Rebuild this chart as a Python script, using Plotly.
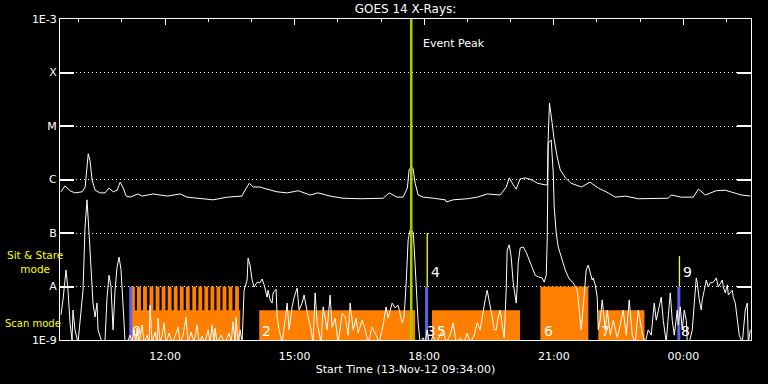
import numpy as np
import pandas as pd
import plotly.graph_objects as go

# ---------------- data (clock hours on 13-Nov-2012; >24 = 14-Nov) ----------------
long_hours = [9.59, 9.68, 9.80, 9.91, 10.08, 10.15, 10.22, 10.26, 10.31, 10.38, 10.49, 10.61, 10.70,
              10.80, 10.89, 10.96, 11.03, 11.10, 11.19, 11.37, 11.47, 11.72, 12.05, 12.35, 12.51, 12.81,
              13.11, 13.44, 13.78, 13.85, 13.95, 14.04, 14.20, 14.27, 14.59, 14.83, 15.08, 15.36, 15.54,
              15.82, 16.12, 16.52, 17.05, 17.19, 17.37, 17.51, 17.61, 17.65, 17.70, 17.74, 17.79, 17.86,
              17.98, 18.21, 18.49, 18.51, 18.67, 19.00, 19.23, 19.46, 19.69, 19.76, 19.90, 19.97, 20.06,
              20.13, 20.22, 20.34, 20.50, 20.62, 20.80, 20.85, 20.87, 20.90, 20.96, 21.01, 21.08, 21.15,
              21.27, 21.40, 21.64, 21.84, 22.03, 22.26, 22.42, 22.66, 22.96, 23.35, 23.65, 23.72, 23.95,
              24.23, 24.35, 24.51, 24.76, 24.97, 25.20, 25.34, 25.55]
long_logflux = [-6.23, -6.12, -6.21, -6.25, -6.23, -6.14, -5.52, -5.64, -6.01, -6.20, -6.25, -6.25, -6.16,
                -6.23, -6.20, -6.05, -6.16, -6.31, -6.33, -6.27, -6.31, -6.27, -6.31, -6.27, -6.33, -6.35,
                -6.38, -6.33, -6.31, -6.20, -6.07, -6.14, -6.14, -6.16, -6.23, -6.25, -6.21, -6.29, -6.25,
                -6.31, -6.35, -6.36, -6.35, -6.25, -6.33, -6.33, -6.16, -5.82, -5.77, -5.79, -6.07, -6.29,
                -6.33, -6.35, -6.38, -6.42, -6.38, -6.36, -6.33, -6.27, -6.29, -6.29, -6.14, -5.97, -6.10,
                -6.18, -5.99, -5.97, -6.01, -6.07, -6.10, -6.10, -5.26, -4.57, -4.93, -5.26, -5.58, -5.82,
                -5.97, -6.07, -6.14, -6.05, -6.16, -6.25, -6.33, -6.31, -6.36, -6.36, -6.35, -6.29, -6.33,
                -6.33, -6.18, -6.29, -6.21, -6.20, -6.25, -6.29, -6.31]

short_hours = [
    9.590, 9.636, 9.706, 9.752, 9.799, 9.845, 9.868, 9.914, 9.984, 10.053, 10.100, 10.146, 10.192,
    10.239, 10.308, 10.331, 10.378, 10.424, 10.447, 10.540, 10.609, 10.656, 10.702, 10.748, 10.795,
    10.841, 10.888, 10.934, 10.980, 11.027, 11.050, 11.073,
    11.119, 11.189, 11.235, 11.282, 11.328, 11.351, 11.397, 11.467, 11.513, 11.583, 11.629, 11.652,
    11.698, 11.768, 11.814, 11.837, 11.884, 11.930, 11.976, 12.023, 12.092, 12.162, 12.231, 12.301,
    12.347, 12.416, 12.486, 12.532, 12.601, 12.671, 12.740, 12.787, 12.856, 12.926, 12.995, 13.042,
    13.088, 13.134, 13.158, 13.204, 13.296, 13.389, 13.482, 13.528, 13.574, 13.621, 13.644, 13.690,
    13.737, 13.783, 13.829, 13.899, 13.922, 13.968, 14.015, 14.061, 14.130, 14.200, 14.246, 14.293,
    14.362, 14.385, 14.432, 14.478, 14.501, 14.571, 14.594, 14.640, 14.710, 14.779, 14.826, 14.872,
    14.941, 14.988, 15.057, 15.103, 15.173, 15.219, 15.265, 15.312, 15.381, 15.427, 15.474, 15.520,
    15.613, 15.659, 15.752, 15.821, 15.868, 15.937, 16.007, 16.099, 16.169, 16.238, 16.285, 16.354,
    16.424, 16.470, 16.563, 16.632, 16.702, 16.794, 16.887, 16.956, 17.049, 17.118, 17.165, 17.257,
    17.327, 17.396, 17.489, 17.535, 17.582, 17.628, 17.674, 17.744, 17.767, 17.813, 17.836, 17.860,
    17.906, 17.975, 18.022, 18.068, 18.114, 18.207, 18.276, 18.369, 18.439, 18.508, 18.601, 18.670,
    18.740, 18.833, 18.925, 18.995, 19.064, 19.157, 19.226, 19.296, 19.365, 19.411, 19.458, 19.504,
    19.574, 19.620, 19.667, 19.713, 19.759, 19.806, 19.852, 19.898, 19.921, 19.968, 20.014, 20.060,
    20.130, 20.153, 20.176, 20.222, 20.292, 20.361, 20.431, 20.524, 20.570, 20.639, 20.732, 20.778,
    20.825, 20.848, 20.871, 20.940, 20.987, 21.010, 21.056, 21.103, 21.195, 21.265, 21.334, 21.381,
    21.450, 21.543, 21.589, 21.635, 21.682, 21.751, 21.798, 21.844, 21.890, 21.913, 21.960, 22.006,
    22.029, 22.075, 22.122, 22.168, 22.191, 22.238, 22.307, 22.377, 22.469, 22.539, 22.608, 22.678,
    22.747, 22.817, 22.886, 22.956, 23.048, 23.118, 23.187, 23.257, 23.326, 23.373, 23.419, 23.488,
    23.535, 23.604, 23.627, 23.697, 23.743, 23.790, 23.859, 23.882, 23.929, 23.975, 24.021, 24.068,
    24.091, 24.137, 24.207, 24.253, 24.299, 24.322, 24.369, 24.415, 24.438, 24.485, 24.531, 24.577,
    24.624, 24.693, 24.763, 24.809, 24.855, 24.902, 24.925, 24.971, 25.018, 25.041, 25.133, 25.156,
    25.203, 25.249, 25.295, 25.365, 25.434, 25.480, 25.504, 25.550]
short_logflux = [
    -8.53, -8.25, -7.69, -8.07, -8.68, -9.0, -8.44, -8.81, -9.05, -8.44, -8.07, -6.89, -6.38,
    -7.00, -8.07, -8.31, -8.57, -8.31, -8.81, -9.05, -9.0, -8.20, -7.79, -8.01, -8.81,
    -8.07, -7.64, -7.45, -7.69, -8.25, -8.68, -9.05,
    -9.05, -8.91, -9.05, -8.81, -9.05, -8.78, -9.05, -8.72, -9.05, -8.91, -9.05, -8.35,
    -9.05, -8.85, -9.05, -8.59, -9.05, -8.91, -8.68, -9.05, -8.87, -9.05, -8.93, -8.76,
    -9.05, -8.91, -8.57, -9.05, -8.85, -9.05, -8.72, -9.05, -8.93, -9.05, -8.81, -9.05,
    -8.72, -9.05, -8.78, -9.05, -8.91, -9.05, -8.87, -9.05, -8.66, -9.05, -8.57, -9.05,
    -8.81, -9.05, -8.07, -7.88, -7.47, -7.60, -7.88, -8.01, -7.92, -7.93, -7.86, -7.97,
    -8.20, -8.07, -8.25, -8.31, -8.12, -8.05, -8.57, -8.81, -9.05, -8.63, -8.31, -8.81,
    -8.38, -8.20, -8.03, -8.44, -8.31, -8.16, -8.40, -8.57, -8.81, -9.05, -8.12, -8.68,
    -9.05, -8.38, -8.81, -8.16, -8.76, -8.59, -9.05, -8.50, -8.57, -8.91, -8.31, -8.81,
    -8.59, -8.87, -8.63, -8.81, -9.05, -8.76, -8.91, -9.05, -8.72, -8.38, -8.59, -8.31,
    -8.40, -8.35, -8.68, -8.57, -7.93, -7.13, -6.94, -6.98, -7.26, -7.82, -8.31, -8.68,
    -9.05, -8.96, -9.05, -8.81, -9.05, -8.93, -9.05, -8.91, -8.81, -9.05, -8.91, -8.68,
    -9.05, -8.96, -9.05, -8.87, -9.05, -8.91, -8.68, -8.81, -8.44, -8.25, -8.07, -8.25,
    -8.57, -8.81, -8.81, -8.57, -8.44, -8.72, -8.96, -8.07, -7.32, -7.22, -7.45, -7.93,
    -8.31, -8.01, -7.56, -7.28, -7.26, -7.36, -7.50, -7.69, -7.79, -7.82, -7.84, -7.92,
    -7.79, -7.13, -5.32, -5.26, -5.88, -6.51, -7.00, -7.26, -7.50, -7.69, -7.82, -7.88,
    -7.93, -8.07, -8.44, -8.81, -8.38, -7.69, -7.60, -7.75, -7.88, -7.84, -7.97, -8.20,
    -8.81, -8.63, -8.25, -8.63, -8.81, -8.44, -8.91, -8.63, -8.96, -8.72, -8.44, -8.91,
    -8.25, -8.91, -9.05, -8.44, -8.87, -9.05, -8.81, -8.91, -8.31, -8.63, -8.44, -8.20,
    -8.63, -9.05, -8.81, -8.12, -8.63, -8.91, -8.44, -8.72, -8.38, -8.81, -8.44, -8.63,
    -9.05, -9.05, -8.81, -8.25, -7.84, -7.93, -8.25, -8.44, -8.25, -8.07, -7.88, -8.01,
    -7.93, -7.92, -7.84, -8.01, -7.93, -7.88, -8.01, -8.12, -7.97, -8.16, -8.07, -8.20,
    -8.31, -8.57, -8.91, -9.05, -8.44, -8.31, -9.05, -8.81]

# observation timeline (clock hours)
scan_start = [11.21, 14.18, 18.18, 22.03]
scan_end = [13.74, 17.79, 20.22, 23.10]
stare_start = [11.21, 11.35, 11.49, 11.64, 11.78, 11.92, 12.06, 12.20, 12.34, 12.48, 12.63,
               12.77, 12.91, 13.05, 13.19, 13.33, 13.47, 13.62, 20.69]
stare_end = [11.30, 11.44, 11.58, 11.73, 11.87, 12.01, 12.15, 12.29, 12.43, 12.57, 12.72,
             12.86, 13.00, 13.14, 13.28, 13.42, 13.56, 13.71, 21.80]
blue_start = [11.17, 18.02, 23.86]
blue_end = [11.24, 18.09, 23.93]
yellow_hours = [18.07, 23.91]
yellow_top = [1.0e-7, 3.7e-8]
label_text = ["0", "2", "3", "5", "6", "7", "8"]
label_hours = [11.19, 14.20, 18.02, 18.24, 20.72, 22.05, 23.89]
top_label_text = ["4", "9"]
top_label_hours = [18.11, 23.95]
event_peak_hour = 17.70

scan_level = 3.6e-9
stare_level = 1e-8
floor_level = 1e-9

tick_vals = [1e-9, 1e-8, 1e-7, 1e-6, 1e-5, 1e-4, 1e-3]
tick_text = ["1E-9", "A", "B", "C", "M", "X", "1E-3"]

# ---------------- build ----------------
day0 = pd.Timestamp("2012-11-13")


def T(h):
    return day0 + pd.to_timedelta(np.asarray(h, dtype=float), unit="h")


ORANGE = "#ff8000"
BLUE = "#6060e8"
fig = go.Figure()


def rect(h0, h1, y0, y1, color):
    xs = T([h0, h1, h1, h0, h0])
    fig.add_trace(go.Scatter(x=xs, y=[y0, y0, y1, y1, y0], mode="lines", fill="toself",
                             fillcolor=color, line=dict(width=0, color=color),
                             hoverinfo="skip", showlegend=False))


for a, b in zip(scan_start, scan_end):
    rect(a, b, floor_level, scan_level, ORANGE)
for a, b in zip(stare_start, stare_end):
    rect(a, b, floor_level, stare_level, ORANGE)
for a, b in zip(blue_start, blue_end):
    rect(a, b, floor_level, stare_level, BLUE)

for h, top in zip(yellow_hours, yellow_top):
    fig.add_trace(go.Scatter(x=T([h, h]), y=[stare_level, top], mode="lines",
                             line=dict(color="#ffff00", width=1.3), showlegend=False, hoverinfo="skip"))

fig.add_trace(go.Scatter(x=T(short_hours), y=10 ** np.array(short_logflux), mode="lines",
                         line=dict(color="white", width=1), showlegend=False))
fig.add_trace(go.Scatter(x=T(long_hours), y=10 ** np.array(long_logflux), mode="lines",
                         line=dict(color="white", width=1), showlegend=False))

fig.add_trace(go.Scatter(x=T([event_peak_hour, event_peak_hour]), y=[1e-9, 1e-3], mode="lines",
                         line=dict(color="#a0d000", width=2.5), showlegend=False, hoverinfo="skip"))

# invisible trace for the top (tick) axis
fig.add_trace(go.Scatter(x=T([9.6]), y=[1e-6], xaxis="x2", mode="markers",
                         marker=dict(opacity=0), showlegend=False, hoverinfo="skip"))

FONT = "DejaVu Sans"
ann = []
for t, h in zip(label_text, label_hours):
    ann.append(dict(x=T([h])[0], y=-9, xref="x", yref="y", text=t, showarrow=False,
                    xanchor="left", yanchor="bottom", yshift=-1,
                    font=dict(color="white", size=14, family=FONT)))
for t, h in zip(top_label_text, top_label_hours):
    ann.append(dict(x=T([h])[0], y=-7.73, xref="x", yref="y", text=t, showarrow=False,
                    xanchor="left", yanchor="middle",
                    font=dict(color="white", size=14, family=FONT)))
ann.append(dict(x=T([17.93])[0], y=-3.45, xref="x", yref="y", text="Event Peak", showarrow=False,
                xanchor="left", yanchor="middle", font=dict(color="white", size=11, family=FONT)))
ann.append(dict(x=-0.036, y=-7.55, xref="paper", yref="y", text="Sit & Stare<br>mode",
                showarrow=False, xanchor="center", yanchor="middle",
                font=dict(color="#ffff00", size=10.5, family=FONT)))
ann.append(dict(x=-0.0825, y=-8.70, xref="paper", yref="y", text="Scan mode",
                showarrow=False, xanchor="left", yanchor="middle",
                font=dict(color="#ffff00", size=10, family=FONT)))

x_range = [day0 + pd.Timedelta(hours=9, minutes=34), day0 + pd.Timedelta(hours=25, minutes=34)]

fig.update_layout(
    width=768, height=384,
    margin=dict(l=60, r=17, t=19, b=44, autoexpand=False),
    paper_bgcolor="black", plot_bgcolor="black",
    font=dict(family=FONT, color="white", size=11),
    title=dict(text="GOES 14 X-Rays:", x=0.5, xref="paper", xanchor="center",
               y=1 - 9 / 384, yref="container", yanchor="middle",
               font=dict(size=12, color="white", family=FONT)),
    annotations=ann,
    xaxis=dict(type="date", range=x_range, showline=True, linecolor="white", linewidth=1,
               mirror=True, ticks="", showgrid=False, zeroline=False, automargin=False,
               tickformat="%H:%M", dtick=3 * 3600 * 1000, tick0="2012-11-13 00:00",
               tickfont=dict(size=11, color="white"), ticklabelstandoff=6,
               title=dict(text="Start Time (13-Nov-12 09:34:00)", standoff=2,
                          font=dict(size=11, color="white"))),
    xaxis2=dict(type="date", range=x_range, overlaying="x", side="top", anchor="y",
                showticklabels=False, showgrid=False, zeroline=False, showline=False,
                automargin=False,
                ticks="inside", ticklen=6, tickcolor="white", tickwidth=1,
                dtick=3 * 3600 * 1000, tick0="2012-11-13 00:00",
                minor=dict(dtick=3600 * 1000, ticks="inside", ticklen=3, tickcolor="white",
                           tick0="2012-11-13 00:00", showgrid=False)),
    yaxis=dict(type="log", range=[-9, -3], tickvals=tick_vals, ticktext=tick_text,
               showline=True, linecolor="white", linewidth=1, mirror="ticks", automargin=False,
               ticks="inside", ticklen=14, tickcolor="white", tickwidth=1.5,
               showgrid=True, gridcolor="white", gridwidth=1, griddash="1px,3px",
               zeroline=False, tickfont=dict(size=11, color="white")),
)

fig.write_html("out.html")
